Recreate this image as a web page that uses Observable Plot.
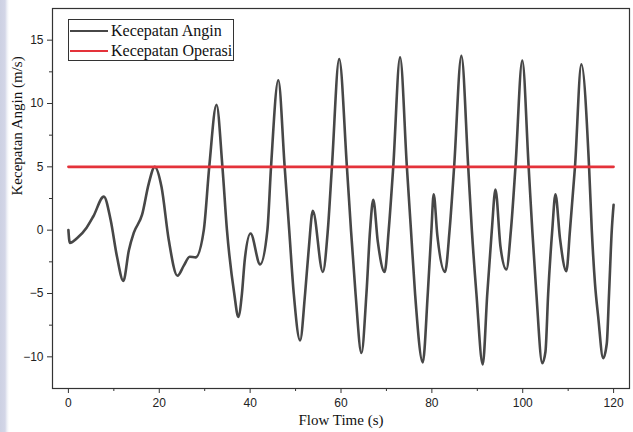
<!DOCTYPE html>
<html>
<head>
<meta charset="utf-8">
<script src="https://cdn.jsdelivr.net/npm/d3@7"></script>
<script src="https://cdn.jsdelivr.net/npm/@observablehq/plot@0.6"></script>
<style>
  body { margin: 0; background: #fff; }
  #wrap { position: relative; width: 633px; height: 432px; overflow: hidden; background: #fff; }
  #strip { position: absolute; left: 0; top: 0; width: 9px; height: 432px;
           background: linear-gradient(to right, #cdd1e3 0px, #d3d6e7 5px, #eef0f6 7px, #ffffff 9px); }
  #chart { position: absolute; left: 0; top: 0; }
  #legend { position: absolute; left: 68px; top: 19px; width: 166px; height: 42px; box-sizing: border-box;
            border: 1px solid #333; background: #fff; font-family: 'Liberation Serif', 'Times New Roman', serif;
            font-size: 16px; color: #111; }
  .row { position: absolute; left: 0; height: 20px; display: flex; align-items: center; }
  .swatch { width: 38px; height: 0; border-top: 2.6px solid; margin-left: 1px; margin-right: 3px; }
</style>
</head>
<body>
<div id="wrap">
  <div id="strip"></div>
  <div id="chart"></div>
  <div id="legend"></div>
</div>
<script>
// Flow time (s) and wind speed (m/s)
const flowTime = [
  0, 0.3, 2.0, 4.0, 5.5, 7.8, 9.3, 10.7, 12.1, 13.3, 14.4, 16.2, 17.7, 19.0, 20.5, 22.1, 24.0, 25.4,
  26.7, 28.0, 29.8, 31.0, 32.6, 33.9, 34.9, 36.5, 37.4, 38.2, 38.8, 40.1, 42.2, 43.8, 44.6, 46.2,
  47.6, 48.6, 49.6, 51.0, 52.1, 52.9, 53.8, 56.0, 57.1, 58.0, 59.6, 61.3, 62.2, 63.2, 64.5, 65.6,
  66.4, 67.1, 68.1, 69.6, 70.5, 71.5, 73.0, 74.5, 75.4, 76.3, 78.0, 79.1, 79.9, 80.4, 81.2, 82.9,
  83.9, 84.9, 86.5, 88.0, 88.8, 89.8, 91.2, 92.2, 93.2, 94.0, 95.1, 96.4, 97.4, 98.4, 99.9, 101.3,
  102.1, 103.0, 104.3, 105.0, 105.6, 106.5, 107.2, 108.2, 109.6, 110.4, 111.5, 112.9, 114.6, 115.2,
  115.9, 116.6, 117.7, 118.5, 119.0, 119.6, 120.0
];
const windSpeed = [
  0, -1.0, -0.6, 0.2, 1.1, 2.65, 0.8, -2.1, -4.0, -1.6, -0.2, 1.2, 3.7, 5.0, 3.4, -0.8, -3.6, -2.8,
  -2.1, -2.15, 0, 5.0, 9.9, 5.0, 0, -5.0, -6.85, -5.0, -2.4, -0.26, -2.7, 0, 5.0, 11.84,
  5.0, 0, -5.0, -8.7, -5.0, -1.5, 1.52, -3.3, 0, 5.0, 13.5, 5.0, 0, -5.0, -9.7, -5.0,
  0, 2.4, -0.9, -3.3, 0, 5.0, 13.65, 5.0, 0, -5.0, -10.44, -5.0, 0, 2.84, -0.4, -3.3,
  0, 5.0, 13.76, 5.0, 0, -5.0, -10.6, -5.0, 0, 3.2, -1.3, -3.1, 0, 5.0, 13.4, 5.0,
  0, -5.0, -10.5, -9.6, -5.0, 0, 2.84, -0.65, -3.24, 0, 5.0, 13.1, 5.0, 0,
  -4.2, -6.8, -10.1, -8.95, -5.0, 0, 2.0
];
// Operating speed line
const operatingTime = [0, 120];
const operatingSpeed = [5, 5];

const seriesNames = ["Kecepatan Angin", "Kecepatan Operasi"];
const seriesColors = ["#474747", "#e4323a"];

const xTicks = [0, 20, 40, 60, 80, 100, 120];
const xMinorTicks = [10, 30, 50, 70, 90, 110];
const yTicks = [-10, -5, 0, 5, 10, 15];
const yMinorTicks = [-7.5, -2.5, 2.5, 7.5, 12.5];

const xTitle = "Flow Time (s)";
const yTitle = "Kecepatan Angin (m/s)";

const wind = flowTime.map((t, i) => ({t, v: windSpeed[i]}));
const oper = operatingTime.map((t, i) => ({t, v: operatingSpeed[i]}));

const serif = "'Liberation Serif', 'Times New Roman', serif";

const chart = Plot.plot({
  width: 633,
  height: 432,
  marginLeft: 52,
  marginRight: 4,
  marginTop: 8,
  marginBottom: 44,
  style: {fontFamily: "'Liberation Sans', Arial, sans-serif", fontSize: "12px", color: "#222", background: "transparent"},
  x: {domain: [-3.5, 123.5]},
  y: {domain: [-12.5, 17.5]},
  marks: [
    Plot.line(wind, {x: "t", y: "v", stroke: seriesColors[0], strokeWidth: 2.6, curve: "monotone-x"}),
    Plot.line(oper, {x: "t", y: "v", stroke: seriesColors[1], strokeWidth: 2.6}),
    Plot.frame({stroke: "#333", strokeWidth: 1.2}),
    Plot.axisX({ticks: xTicks, tickSize: 5, tickPadding: 5, label: null, stroke: "#333"}),
    Plot.axisX({ticks: xMinorTicks, tickSize: 3, tickFormat: () => "", label: null, stroke: "#333"}),
    Plot.axisY({ticks: yTicks, tickSize: 5, tickPadding: 4, label: null, stroke: "#333"}),
    Plot.axisY({ticks: yMinorTicks, tickSize: 3, tickFormat: () => "", label: null, stroke: "#333"}),
    Plot.text([xTitle], {frameAnchor: "bottom", lineAnchor: "middle", dy: 32, text: d => d, fontFamily: serif, fontSize: 15, fill: "#111"}),
    Plot.text([yTitle], {frameAnchor: "left", lineAnchor: "middle", dx: -35, dy: -3, rotate: -90, text: d => d, fontFamily: serif, fontSize: 15, fill: "#111"})
  ]
});
document.getElementById("chart").appendChild(chart);

const legend = document.getElementById("legend");
seriesNames.forEach((name, i) => {
  const row = document.createElement("div");
  row.className = "row";
  row.style.top = (i === 0 ? 1 : 21) + "px";
  const sw = document.createElement("div");
  sw.className = "swatch";
  sw.style.borderTopColor = seriesColors[i];
  const tx = document.createElement("span");
  tx.textContent = name;
  row.appendChild(sw);
  row.appendChild(tx);
  legend.appendChild(row);
});
</script>
</body>
</html>
